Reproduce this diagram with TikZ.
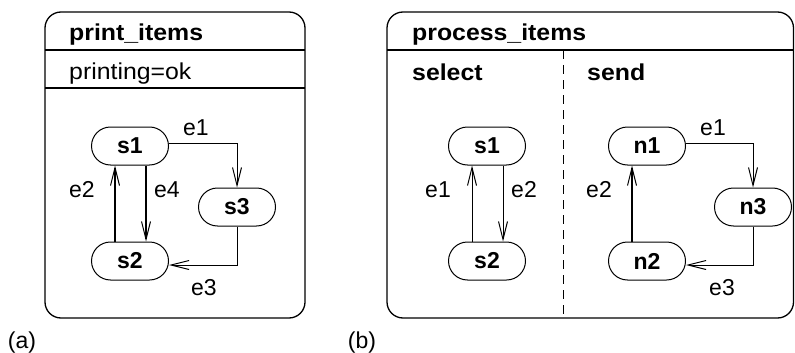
\documentclass[tikz,border=0pt]{standalone}
\usepackage{fontspec}
\setmainfont{Liberation Sans}
\newfontfamily\headfont{Liberation Sans}[FakeStretch=1.08]
\usetikzlibrary{arrows.meta}

\tikzset{
  state/.style={draw, line width=1pt, rounded corners=19pt,
    minimum width=77pt, minimum height=38pt, inner sep=0pt,
    font=\fontsize{23}{25}\selectfont\bfseries},
  arr/.style={line width=1pt, -{Straight Barb[length=18pt,width=9pt,line width=1pt]}},
  thickarr/.style={arr, line width=1.5pt},
  lbl/.style={anchor=base, inner sep=0pt, font=\fontsize{23}{25}\selectfont},
  head/.style={anchor=base west, inner sep=0pt, font=\headfont\bfseries\fontsize{23}{25}\selectfont},
  sub/.style={anchor=base west, inner sep=0pt, font=\headfont\fontsize{23}{25}\selectfont},
  frame/.style={draw, line width=1.3pt, rounded corners=16pt},
  rule/.style={line width=1.2pt},
}

\begin{document}
\begin{tikzpicture}[x=1pt, y=-1pt]
  \useasboundingbox (0,0) rectangle (795,353);

  % ---------- (a) print_items ----------
  \draw[frame] (45,12) rectangle (305,318);
  \coordinate (a1l) at (45,50);  \coordinate (a1r) at (305,50);
  \coordinate (a2l) at (45,88);  \coordinate (a2r) at (305,88);
  \draw[rule] (a1l) -- (a1r);
  \draw[rule] (a2l) -- (a2r);
  \node[head] (ta) at (69,41) {print\_items};
  \node[sub] (va) at (69,80) {printing=ok};

  \node[state] (s1) at (130,146) {s1};
  \node[state] (s2) at (130,261) {s2};
  \node[state] (s3) at (237,207) {s3};

  \draw[arr] ([yshift=3pt]s1.east) -| (s3.north);
  \draw[arr] (s3.south) |- ([yshift=-4pt]s2.east);
  \draw[thickarr] ([xshift=-15pt]s2.north) -- ([xshift=-15pt]s1.south);
  \draw[thickarr] ([xshift=16pt]s1.south) -- ([xshift=16pt]s2.north);

  \node[lbl] (le1) at (196,135) {e1};
  \node[lbl] (le2) at (82,197) {e2};
  \node[lbl] (le4) at (167,197) {e4};
  \node[lbl] (le3) at (204,295) {e3};

  \node[lbl] (capa) at (22,348) {(a)};

  % ---------- (b) process_items ----------
  \draw[frame] (387,12) rectangle (793.5,318);
  \coordinate (b1l) at (387,50);  \coordinate (b1r) at (793.5,50);
  \draw[rule] (b1l) -- (b1r);
  \coordinate (dtop) at (563,50); \coordinate (dbot) at (563,318);
  \draw[line width=1pt, dash pattern=on 9pt off 6pt] (dtop) -- (dbot);
  \node[head] (tb) at (412,41) {process\_items};
  \node[head] (tsel) at (412,81) {select};
  \node[head] (tsnd) at (587,81) {send};

  % select region
  \node[state] (r1) at (487,146) {s1};
  \node[state] (r2) at (487,261) {s2};
  \draw[arr] ([xshift=-15pt]r2.north) -- ([xshift=-15pt]r1.south);
  \draw[arr] ([xshift=16pt]r1.south) -- ([xshift=16pt]r2.north);
  \node[lbl] (re1) at (438,197) {e1};
  \node[lbl] (re2) at (524,197) {e2};

  % send region
  \node[state] (n1) at (647,146) {n1};
  \node[state] (n2) at (647,261) {n2};
  \node[state] (n3) at (753,207) {n3};
  \draw[arr] ([yshift=3pt]n1.east) -| (n3.north);
  \draw[arr] (n3.south) |- ([yshift=-4pt]n2.east);
  \draw[thickarr] ([xshift=-15pt]n2.north) -- ([xshift=-15pt]n1.south);
  \node[lbl] (ne1) at (713,135) {e1};
  \node[lbl] (ne2) at (599,197) {e2};
  \node[lbl] (ne3) at (722,295) {e3};

  \node[lbl] (capb) at (362,348) {(b)};
\end{tikzpicture}
\end{document}
